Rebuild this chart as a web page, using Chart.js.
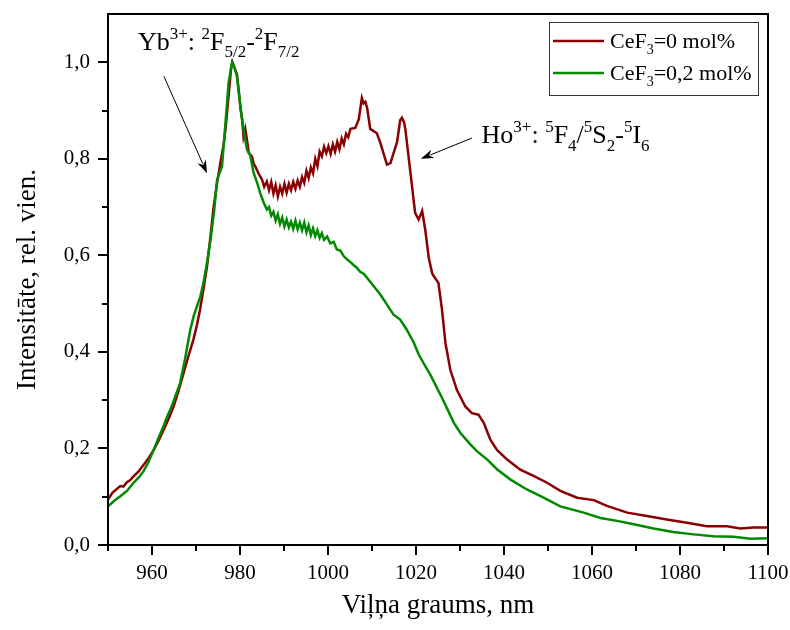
<!DOCTYPE html>
<html>
<head>
<meta charset="utf-8">
<script src="https://cdn.jsdelivr.net/npm/chart.js@4.4.0/dist/chart.umd.min.js"></script>
<style>
  html, body { margin: 0; padding: 0; background: #fff; }
  #wrap { width: 790px; height: 630px; }
</style>
</head>
<body>
<div id="wrap"><canvas id="chart-spectrum" width="790" height="630"></canvas></div>
<script>
// ── Data ──────────────────────────────────────────────────────────────────────

const wavelengthRed = [
  950, 951, 952, 952.8, 953.5, 954.3, 955, 955.8, 957, 958.1, 959.2, 960.4, 961.5, 962.6, 963.8, 964.9,
  966, 967.2, 968.3, 969.4, 970.2, 970.9, 971.7, 972.5, 973.3, 974, 974.8, 975.7, 976.3, 976.8, 977.4,
  978, 978.3, 978.7, 979.3, 979.7, 980.1, 980.5, 980.8, 981.2, 981.6, 982, 982.7, 983.1, 983.5, 984.3,
  985, 985.5, 986.1, 986.6, 987.1, 987.6, 988.1, 988.6, 989.1, 989.6, 990.1, 990.6, 991.1, 991.6, 992.1,
  992.6, 993.1, 993.6, 994.1, 994.6, 995.1, 995.6, 996.1, 996.6, 997.1, 997.6, 998.1, 998.6, 999.1,
  999.6, 1000.1, 1000.6, 1001.1, 1001.6, 1002.1, 1002.6, 1003.1, 1003.6, 1004.1, 1004.6, 1005.1,
  1006.2, 1007, 1007.7, 1008.1, 1008.5, 1008.9, 1009.6, 1011.1, 1011.9, 1012.6, 1013.4, 1014.2, 1014.9,
  1015.7, 1016.4, 1016.8, 1017.3, 1017.6, 1018.3, 1019.1, 1019.8, 1020.6, 1021.4, 1022.1, 1022.9,
  1023.7, 1024.4, 1025.1, 1025.9, 1026.7, 1027.8, 1029.3, 1031.2, 1032.7, 1034.2, 1035.4, 1036.9,
  1038.4, 1040.7, 1043.7, 1046.7, 1049.8, 1052.8, 1056.6, 1060.4, 1063.4, 1068, 1072.5, 1077, 1081.6,
  1086.1, 1090.7, 1093.7, 1096.7, 1100
];
const intensityRed = [
  0.094, 0.108, 0.116, 0.122, 0.121, 0.130, 0.134, 0.142, 0.153, 0.166, 0.180, 0.197, 0.216, 0.238, 0.262, 0.287,
  0.318, 0.357, 0.392, 0.425, 0.455, 0.487, 0.530, 0.577, 0.640, 0.700, 0.750, 0.800, 0.830, 0.870, 0.930,
  0.990, 1.000, 0.990, 0.975, 0.943, 0.905, 0.880, 0.846, 0.862, 0.838, 0.812, 0.805, 0.790, 0.784, 0.768,
  0.757, 0.742, 0.753, 0.735, 0.752, 0.728, 0.745, 0.722, 0.742, 0.728, 0.748, 0.730, 0.748, 0.735, 0.752,
  0.738, 0.755, 0.742, 0.762, 0.750, 0.775, 0.760, 0.782, 0.770, 0.800, 0.785, 0.815, 0.805, 0.825,
  0.812, 0.826, 0.810, 0.830, 0.815, 0.835, 0.820, 0.842, 0.830, 0.852, 0.845, 0.862,
  0.864, 0.882, 0.926, 0.915, 0.918, 0.905, 0.862, 0.853, 0.833, 0.812, 0.788, 0.791, 0.812,
  0.835, 0.880, 0.885, 0.875, 0.860, 0.805, 0.743, 0.688, 0.674, 0.692, 0.653, 0.595,
  0.562, 0.552, 0.543, 0.488, 0.418, 0.363, 0.321, 0.287, 0.273, 0.270, 0.253, 0.218,
  0.197, 0.177, 0.156, 0.143, 0.129, 0.112, 0.098, 0.093, 0.081, 0.067, 0.060, 0.053, 0.046,
  0.039, 0.039, 0.034, 0.036, 0.036
];

const wavelengthGreen = [
  950, 951.5, 952.8, 954.3, 955.8, 957, 958.1, 959.2, 960.4, 961.5, 962.6, 963.4, 964.2, 965.3, 966.4,
  967.5, 968.7, 969.5, 970.2, 971, 971.7, 972.5, 973.3, 974.1, 974.8, 975.9, 976.7, 977.4, 978.2, 978.7,
  979.3, 980.1, 980.8, 981.6, 982.3, 983.1, 983.9, 984.6, 985.4, 986.1, 986.6, 987.1, 987.6, 988.1,
  988.6, 989.1, 989.6, 990.1, 990.6, 991.1, 991.6, 992.1, 992.6, 993.1, 993.6, 994.1, 994.6, 995.1,
  995.6, 996.1, 996.6, 997.1, 997.6, 998.1, 998.6, 999.1, 999.8, 1000.5, 1001.3, 1002, 1002.8, 1003.6,
  1004.3, 1005.1, 1005.8, 1006.6, 1007.3, 1008.1, 1008.9, 1010.4, 1011.9, 1013.4, 1014.9, 1016.4,
  1017.9, 1019.5, 1020.6, 1021.7, 1023.3, 1024.8, 1025.9, 1027.1, 1028.6, 1030.1, 1032.4, 1033.9,
  1036.2, 1038.4, 1041.4, 1045.2, 1049, 1052.8, 1058.1, 1061.9, 1065.7, 1069.5, 1074, 1078.5, 1083.1,
  1087.6, 1092.2, 1096, 1100
];
const intensityGreen = [
  0.080, 0.092, 0.101, 0.112, 0.129, 0.140, 0.153, 0.172, 0.198, 0.222, 0.246, 0.265, 0.281, 0.308, 0.336,
  0.385, 0.446, 0.475, 0.494, 0.515, 0.543, 0.585, 0.632, 0.690, 0.757, 0.784, 0.874, 0.957, 1.000, 0.990,
  0.971, 0.908, 0.860, 0.819, 0.808, 0.771, 0.750, 0.729, 0.709, 0.695, 0.700, 0.682, 0.690, 0.672,
  0.685, 0.665, 0.678, 0.660, 0.674, 0.658, 0.670, 0.655, 0.672, 0.654, 0.668, 0.652, 0.668, 0.648,
  0.662, 0.642, 0.656, 0.640, 0.652, 0.636, 0.646, 0.632, 0.639, 0.625, 0.628, 0.612, 0.610, 0.598,
  0.592, 0.586, 0.580, 0.574, 0.566, 0.562, 0.553, 0.536, 0.519, 0.498, 0.477, 0.467,
  0.446, 0.419, 0.395, 0.377, 0.352, 0.325, 0.305, 0.282, 0.253, 0.232, 0.208, 0.194,
  0.177, 0.157, 0.136, 0.115, 0.098, 0.080, 0.067, 0.056, 0.050, 0.043, 0.034, 0.027, 0.022,
  0.018, 0.017, 0.013, 0.014
];

const seriesLabels = ['0', '0,2'];
const seriesColors = ['#8b0000', '#008a00'];

// annotation anchors in data units: [wavelength, intensity]
const ybTextAt = [956.8, 1.025];
const ybArrow = [[962.7, 0.971], [972.5, 0.770]];
const hoTextAt = [1034.9, 0.832];
const hoArrow = [[1032.7, 0.843], [1021.1, 0.800]];

const FONT = "'Liberation Serif', 'Times New Roman', serif";

function toPoints(xs, ys) {
  return xs.map((x, i) => ({ x, y: ys[i] }));
}

// ── Rich text (super/subscripts) ──────────────────────────────────────────────

function drawRich(ctx, parts, x, y, size) {
  const small = Math.round(size * 0.65);
  ctx.textBaseline = 'alphabetic';
  ctx.textAlign = 'left';
  for (const [txt, kind] of parts) {
    let dy = 0;
    if (kind === 'sup') { ctx.font = `${small}px ${FONT}`; dy = -size * 0.42; }
    else if (kind === 'sub') { ctx.font = `${small}px ${FONT}`; dy = size * 0.28; }
    else ctx.font = `${size}px ${FONT}`;
    ctx.fillText(txt, x, y + dy);
    x += ctx.measureText(txt).width;
  }
  return x;
}

function drawArrow(ctx, x1, y1, x2, y2) {
  const ang = Math.atan2(y2 - y1, x2 - x1);
  const len = 13, half = 4.5;
  ctx.beginPath();
  ctx.moveTo(x1, y1);
  ctx.lineTo(x2 - Math.cos(ang) * len * 0.8, y2 - Math.sin(ang) * len * 0.8);
  ctx.stroke();
  ctx.beginPath();
  ctx.moveTo(x2, y2);
  ctx.lineTo(x2 - Math.cos(ang) * len - Math.sin(ang) * half, y2 - Math.sin(ang) * len + Math.cos(ang) * half);
  ctx.lineTo(x2 - Math.cos(ang) * len * 0.7, y2 - Math.sin(ang) * len * 0.7);
  ctx.lineTo(x2 - Math.cos(ang) * len + Math.sin(ang) * half, y2 - Math.sin(ang) * len - Math.cos(ang) * half);
  ctx.closePath();
  ctx.fill();
}

// ── Frame, ticks, legend, annotations ─────────────────────────────────────────

const decorPlugin = {
  id: 'decor',
  afterDraw(chart) {
    const { ctx, chartArea: a, scales } = chart;
    const sx = scales.x, sy = scales.y;
    ctx.save();
    ctx.strokeStyle = '#000';
    ctx.fillStyle = '#000';

    // frame
    ctx.lineWidth = 2;
    ctx.strokeRect(a.left, a.top, a.right - a.left, a.bottom - a.top);

    // ticks (major longer, minor shorter, outward)
    ctx.lineWidth = 2;
    ctx.beginPath();
    for (let v = 950; v <= 1100; v += 10) {
      const px = Math.round(sx.getPixelForValue(v));
      const len = v % 20 === 0 ? 10 : 6;
      ctx.moveTo(px, a.bottom);
      ctx.lineTo(px, a.bottom + len);
    }
    for (let i = 0; i <= 10; i++) {
      const py = Math.round(sy.getPixelForValue(i / 10));
      const len = i % 2 === 0 ? 10 : 6;
      ctx.moveTo(a.left, py);
      ctx.lineTo(a.left - len, py);
    }
    ctx.stroke();

    // legend
    const bx = a.right - 219, by = a.top + 8, bw = 209, bh = 73;
    ctx.lineWidth = 1;
    ctx.strokeStyle = '#333';
    ctx.strokeRect(bx + 0.5, by + 0.5, bw, bh);
    seriesLabels.forEach((lab, i) => {
      const ly = by + 19 + i * 32;
      ctx.strokeStyle = seriesColors[i];
      ctx.lineWidth = 2.5;
      ctx.beginPath();
      ctx.moveTo(bx + 4, ly);
      ctx.lineTo(bx + 55, ly);
      ctx.stroke();
      ctx.fillStyle = '#000';
      drawRich(ctx, [['CeF', 'n'], ['3', 'sub'], ['=' + lab + ' mol%', 'n']], bx + 61, ly + 7, 22);
    });

    // annotations
    ctx.strokeStyle = '#000';
    ctx.fillStyle = '#000';
    ctx.lineWidth = 1;
    const P = ([x, y]) => [sx.getPixelForValue(x), sy.getPixelForValue(y)];
    let [tx, ty] = P(ybTextAt);
    drawRich(ctx, [['Yb', 'n'], ['3+', 'sup'], [': ', 'n'], ['2', 'sup'], ['F', 'n'], ['5/2', 'sub'],
      ['-', 'n'], ['2', 'sup'], ['F', 'n'], ['7/2', 'sub']], tx, ty, 26);
    [tx, ty] = P(hoTextAt);
    drawRich(ctx, [['Ho', 'n'], ['3+', 'sup'], [': ', 'n'], ['5', 'sup'], ['F', 'n'], ['4', 'sub'],
      ['/', 'n'], ['5', 'sup'], ['S', 'n'], ['2', 'sub'], ['-', 'n'], ['5', 'sup'], ['I', 'n'], ['6', 'sub']], tx, ty, 26);
    const [a1, a2] = [P(ybArrow[0]), P(ybArrow[1])];
    drawArrow(ctx, a1[0], a1[1], a2[0], a2[1]);
    const [b1, b2] = [P(hoArrow[0]), P(hoArrow[1])];
    drawArrow(ctx, b1[0], b1[1], b2[0], b2[1]);

    ctx.restore();
  },
};

// ── Chart ─────────────────────────────────────────────────────────────────────

new Chart(document.getElementById('chart-spectrum'), {
  type: 'line',
  data: {
    datasets: [
      {
        label: 'CeF3=0 mol%',
        data: toPoints(wavelengthRed, intensityRed),
        borderColor: seriesColors[0],
        borderWidth: 2.5,
        pointRadius: 0,
        tension: 0,
        order: 1,
      },
      {
        label: 'CeF3=0,2 mol%',
        data: toPoints(wavelengthGreen, intensityGreen),
        borderColor: seriesColors[1],
        borderWidth: 2.5,
        pointRadius: 0,
        tension: 0,
        order: 0,
      },
    ],
  },
  options: {
    responsive: false,
    animation: false,
    layout: { padding: { top: 14, right: 22, left: 0, bottom: 0 } },
    plugins: {
      legend: { display: false },
      tooltip: { enabled: false },
    },
    scales: {
      x: {
        type: 'linear',
        min: 950,
        max: 1100,
        afterFit: s => { s.height = 85; s.paddingLeft = 0; s.paddingRight = 0; },
        grid: { drawOnChartArea: false, drawTicks: true, tickLength: 10, color: 'rgba(0,0,0,0)' },
        border: { display: false },
        ticks: {
          stepSize: 10,
          autoSkip: false,
          maxRotation: 0,
          padding: 6,
          color: '#000',
          font: { size: 21, family: FONT },
          callback: v => (v % 20 === 0 ? String(v) : ''),
        },
        title: {
          display: true,
          text: 'Viļņa graums, nm',
          color: '#000',
          font: { size: 27, family: FONT },
          padding: { top: 0, bottom: 8 },
        },
      },
      y: {
        min: 0,
        max: 1.1,
        afterFit: s => { s.width = 108; s.paddingTop = 0; s.paddingBottom = 0; },
        grid: { drawOnChartArea: false, drawTicks: true, tickLength: 10, color: 'rgba(0,0,0,0)' },
        border: { display: false },
        ticks: {
          stepSize: 0.1,
          autoSkip: false,
          padding: 8,
          color: '#000',
          font: { size: 21, family: FONT },
          callback: v => {
            const k = Math.round(v * 10);
            return k % 2 === 0 && k <= 10 ? (k / 10).toFixed(1).replace('.', ',') : '';
          },
        },
        title: {
          display: true,
          text: 'Intensitāte, rel. vien.',
          color: '#000',
          font: { size: 27, family: FONT },
          padding: { top: 12, bottom: 0 },
        },
      },
    },
  },
  plugins: [decorPlugin],
});
</script>
</body>
</html>
